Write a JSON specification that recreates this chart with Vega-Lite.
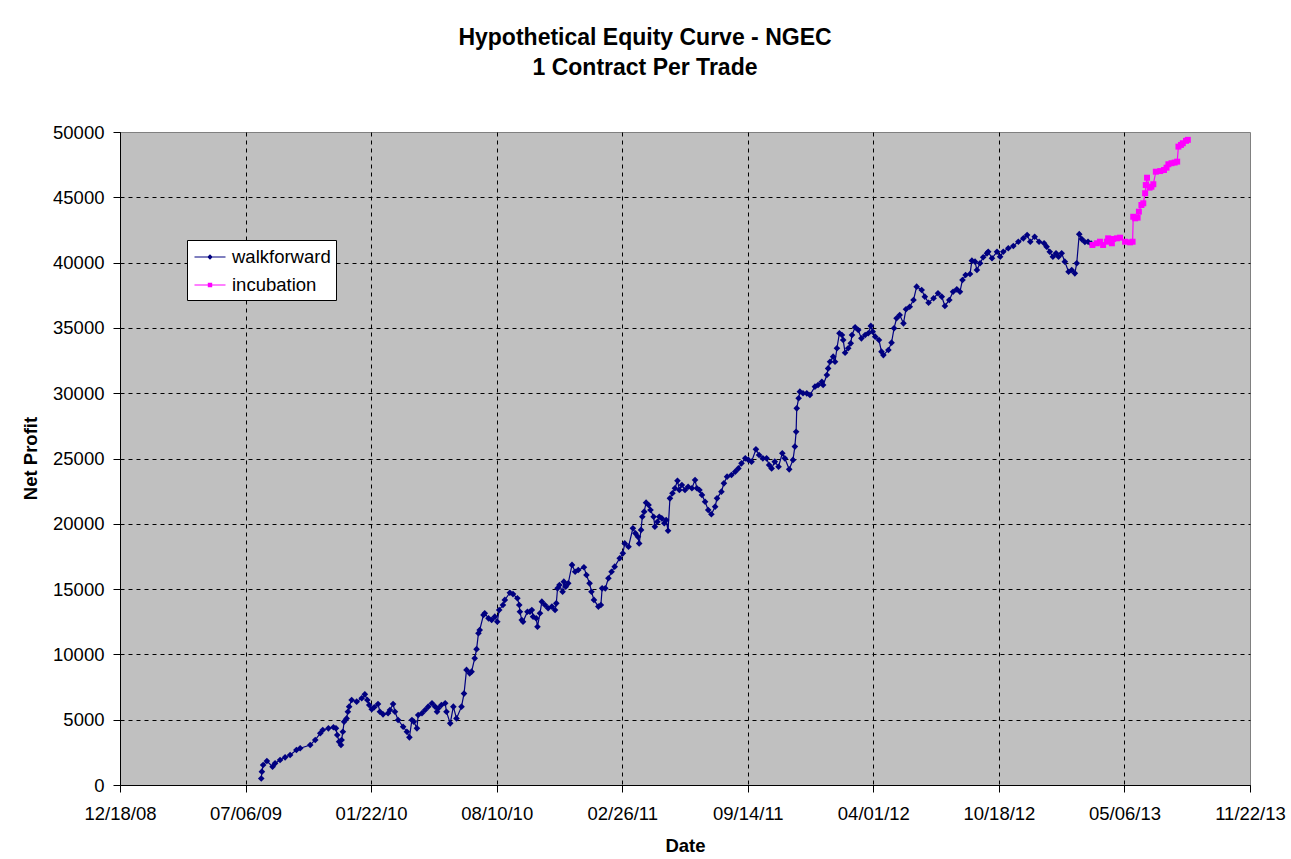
{
"$schema": "https://vega.github.io/schema/vega-lite/v6.json",
"width": 1130, "height": 653,
"autosize": "none",
"padding": {"left": 120, "top": 132, "right": 41, "bottom": 74},
"background": "white",
"title": {"text": ["Hypothetical Equity Curve - NGEC", "1 Contract Per Trade"], "fontSize": 23, "font": "Liberation Sans", "fontWeight": "bold", "color": "black", "anchor": "middle", "frame": "group", "dx": -40, "offset": 43, "lineHeight": 30},
"config": {
  "font": "Liberation Sans",
  "view": {"fill": "#C0C0C0", "stroke": "#808080", "strokeWidth": 1}
},
"data": {"values": [
{"date":"2009-07-31","profit":500,"series":"walkforward"},
{"date":"2009-08-01","profit":1020,"series":"walkforward"},
{"date":"2009-08-03","profit":1530,"series":"walkforward"},
{"date":"2009-08-09","profit":1840,"series":"walkforward"},
{"date":"2009-08-18","profit":1400,"series":"walkforward"},
{"date":"2009-08-22","profit":1660,"series":"walkforward"},
{"date":"2009-08-30","profit":1910,"series":"walkforward"},
{"date":"2009-09-07","profit":2120,"series":"walkforward"},
{"date":"2009-09-15","profit":2300,"series":"walkforward"},
{"date":"2009-09-25","profit":2680,"series":"walkforward"},
{"date":"2009-10-01","profit":2810,"series":"walkforward"},
{"date":"2009-10-17","profit":3060,"series":"walkforward"},
{"date":"2009-10-25","profit":3450,"series":"walkforward"},
{"date":"2009-11-02","profit":3960,"series":"walkforward"},
{"date":"2009-11-06","profit":4210,"series":"walkforward"},
{"date":"2009-11-15","profit":4340,"series":"walkforward"},
{"date":"2009-11-23","profit":4420,"series":"walkforward"},
{"date":"2009-11-27","profit":4340,"series":"walkforward"},
{"date":"2009-11-29","profit":3830,"series":"walkforward"},
{"date":"2009-12-02","profit":3320,"series":"walkforward"},
{"date":"2009-12-05","profit":3060,"series":"walkforward"},
{"date":"2009-12-06","profit":3450,"series":"walkforward"},
{"date":"2009-12-08","profit":4080,"series":"walkforward"},
{"date":"2009-12-10","profit":4850,"series":"walkforward"},
{"date":"2009-12-14","profit":5100,"series":"walkforward"},
{"date":"2009-12-16","profit":5610,"series":"walkforward"},
{"date":"2009-12-18","profit":6000,"series":"walkforward"},
{"date":"2009-12-22","profit":6510,"series":"walkforward"},
{"date":"2009-12-30","profit":6380,"series":"walkforward"},
{"date":"2010-01-07","profit":6640,"series":"walkforward"},
{"date":"2010-01-12","profit":6940,"series":"walkforward"},
{"date":"2010-01-16","profit":6510,"series":"walkforward"},
{"date":"2010-01-19","profit":6130,"series":"walkforward"},
{"date":"2010-01-23","profit":5800,"series":"walkforward"},
{"date":"2010-01-27","profit":5950,"series":"walkforward"},
{"date":"2010-02-02","profit":6200,"series":"walkforward"},
{"date":"2010-02-05","profit":5610,"series":"walkforward"},
{"date":"2010-02-10","profit":5410,"series":"walkforward"},
{"date":"2010-02-18","profit":5490,"series":"walkforward"},
{"date":"2010-02-21","profit":5740,"series":"walkforward"},
{"date":"2010-02-26","profit":6200,"series":"walkforward"},
{"date":"2010-03-01","profit":5610,"series":"walkforward"},
{"date":"2010-03-06","profit":4980,"series":"walkforward"},
{"date":"2010-03-14","profit":4460,"series":"walkforward"},
{"date":"2010-03-20","profit":4080,"series":"walkforward"},
{"date":"2010-03-24","profit":3650,"series":"walkforward"},
{"date":"2010-03-28","profit":4980,"series":"walkforward"},
{"date":"2010-03-31","profit":4850,"series":"walkforward"},
{"date":"2010-04-05","profit":4340,"series":"walkforward"},
{"date":"2010-04-07","profit":5360,"series":"walkforward"},
{"date":"2010-04-13","profit":5490,"series":"walkforward"},
{"date":"2010-04-18","profit":5740,"series":"walkforward"},
{"date":"2010-04-23","profit":6000,"series":"walkforward"},
{"date":"2010-04-29","profit":6260,"series":"walkforward"},
{"date":"2010-05-04","profit":6000,"series":"walkforward"},
{"date":"2010-05-07","profit":5610,"series":"walkforward"},
{"date":"2010-05-09","profit":5870,"series":"walkforward"},
{"date":"2010-05-14","profit":6130,"series":"walkforward"},
{"date":"2010-05-20","profit":6260,"series":"walkforward"},
{"date":"2010-05-22","profit":5610,"series":"walkforward"},
{"date":"2010-05-28","profit":4720,"series":"walkforward"},
{"date":"2010-06-02","profit":6000,"series":"walkforward"},
{"date":"2010-06-07","profit":5100,"series":"walkforward"},
{"date":"2010-06-15","profit":6000,"series":"walkforward"},
{"date":"2010-06-19","profit":7000,"series":"walkforward"},
{"date":"2010-06-23","profit":8810,"series":"walkforward"},
{"date":"2010-06-28","profit":8550,"series":"walkforward"},
{"date":"2010-07-01","profit":8680,"series":"walkforward"},
{"date":"2010-07-06","profit":9700,"series":"walkforward"},
{"date":"2010-07-09","profit":10400,"series":"walkforward"},
{"date":"2010-07-12","profit":11620,"series":"walkforward"},
{"date":"2010-07-14","profit":11870,"series":"walkforward"},
{"date":"2010-07-20","profit":13020,"series":"walkforward"},
{"date":"2010-07-22","profit":13150,"series":"walkforward"},
{"date":"2010-07-28","profit":12760,"series":"walkforward"},
{"date":"2010-08-02","profit":12630,"series":"walkforward"},
{"date":"2010-08-07","profit":12890,"series":"walkforward"},
{"date":"2010-08-11","profit":12500,"series":"walkforward"},
{"date":"2010-08-14","profit":13400,"series":"walkforward"},
{"date":"2010-08-20","profit":13780,"series":"walkforward"},
{"date":"2010-08-23","profit":14170,"series":"walkforward"},
{"date":"2010-08-31","profit":14720,"series":"walkforward"},
{"date":"2010-09-05","profit":14620,"series":"walkforward"},
{"date":"2010-09-12","profit":14300,"series":"walkforward"},
{"date":"2010-09-15","profit":13780,"series":"walkforward"},
{"date":"2010-09-16","profit":13270,"series":"walkforward"},
{"date":"2010-09-19","profit":12630,"series":"walkforward"},
{"date":"2010-09-21","profit":12500,"series":"walkforward"},
{"date":"2010-09-28","profit":13270,"series":"walkforward"},
{"date":"2010-10-02","profit":13270,"series":"walkforward"},
{"date":"2010-10-05","profit":13400,"series":"walkforward"},
{"date":"2010-10-07","profit":12890,"series":"walkforward"},
{"date":"2010-10-12","profit":12760,"series":"walkforward"},
{"date":"2010-10-14","profit":12120,"series":"walkforward"},
{"date":"2010-10-18","profit":13150,"series":"walkforward"},
{"date":"2010-10-21","profit":14040,"series":"walkforward"},
{"date":"2010-10-26","profit":13780,"series":"walkforward"},
{"date":"2010-10-31","profit":13530,"series":"walkforward"},
{"date":"2010-11-06","profit":13660,"series":"walkforward"},
{"date":"2010-11-11","profit":13400,"series":"walkforward"},
{"date":"2010-11-13","profit":13910,"series":"walkforward"},
{"date":"2010-11-15","profit":15060,"series":"walkforward"},
{"date":"2010-11-18","profit":15310,"series":"walkforward"},
{"date":"2010-11-23","profit":14800,"series":"walkforward"},
{"date":"2010-11-25","profit":15570,"series":"walkforward"},
{"date":"2010-11-28","profit":15180,"series":"walkforward"},
{"date":"2010-12-02","profit":15440,"series":"walkforward"},
{"date":"2010-12-08","profit":16850,"series":"walkforward"},
{"date":"2010-12-13","profit":16330,"series":"walkforward"},
{"date":"2010-12-18","profit":16460,"series":"walkforward"},
{"date":"2010-12-27","profit":16670,"series":"walkforward"},
{"date":"2010-12-31","profit":16080,"series":"walkforward"},
{"date":"2011-01-05","profit":15440,"series":"walkforward"},
{"date":"2011-01-08","profit":14800,"series":"walkforward"},
{"date":"2011-01-12","profit":14170,"series":"walkforward"},
{"date":"2011-01-19","profit":13660,"series":"walkforward"},
{"date":"2011-01-23","profit":13780,"series":"walkforward"},
{"date":"2011-01-25","profit":15060,"series":"walkforward"},
{"date":"2011-01-30","profit":15060,"series":"walkforward"},
{"date":"2011-02-04","profit":15830,"series":"walkforward"},
{"date":"2011-02-09","profit":16330,"series":"walkforward"},
{"date":"2011-02-14","profit":16720,"series":"walkforward"},
{"date":"2011-02-22","profit":17360,"series":"walkforward"},
{"date":"2011-02-27","profit":17740,"series":"walkforward"},
{"date":"2011-03-02","profit":18500,"series":"walkforward"},
{"date":"2011-03-08","profit":18250,"series":"walkforward"},
{"date":"2011-03-15","profit":19660,"series":"walkforward"},
{"date":"2011-03-19","profit":19270,"series":"walkforward"},
{"date":"2011-03-23","profit":19010,"series":"walkforward"},
{"date":"2011-03-25","profit":18500,"series":"walkforward"},
{"date":"2011-03-28","profit":19530,"series":"walkforward"},
{"date":"2011-03-30","profit":20540,"series":"walkforward"},
{"date":"2011-04-02","profit":20930,"series":"walkforward"},
{"date":"2011-04-05","profit":21620,"series":"walkforward"},
{"date":"2011-04-09","profit":21440,"series":"walkforward"},
{"date":"2011-04-12","profit":21060,"series":"walkforward"},
{"date":"2011-04-17","profit":20540,"series":"walkforward"},
{"date":"2011-04-19","profit":19780,"series":"walkforward"},
{"date":"2011-04-23","profit":20160,"series":"walkforward"},
{"date":"2011-04-26","profit":20540,"series":"walkforward"},
{"date":"2011-04-30","profit":20420,"series":"walkforward"},
{"date":"2011-05-04","profit":20040,"series":"walkforward"},
{"date":"2011-05-07","profit":20290,"series":"walkforward"},
{"date":"2011-05-10","profit":19470,"series":"walkforward"},
{"date":"2011-05-13","profit":21950,"series":"walkforward"},
{"date":"2011-05-17","profit":22340,"series":"walkforward"},
{"date":"2011-05-21","profit":22720,"series":"walkforward"},
{"date":"2011-05-25","profit":23300,"series":"walkforward"},
{"date":"2011-05-28","profit":22590,"series":"walkforward"},
{"date":"2011-06-01","profit":22970,"series":"walkforward"},
{"date":"2011-06-06","profit":22590,"series":"walkforward"},
{"date":"2011-06-11","profit":22840,"series":"walkforward"},
{"date":"2011-06-17","profit":22720,"series":"walkforward"},
{"date":"2011-06-22","profit":23350,"series":"walkforward"},
{"date":"2011-06-25","profit":22720,"series":"walkforward"},
{"date":"2011-06-29","profit":22590,"series":"walkforward"},
{"date":"2011-07-03","profit":22210,"series":"walkforward"},
{"date":"2011-07-08","profit":21690,"series":"walkforward"},
{"date":"2011-07-13","profit":21060,"series":"walkforward"},
{"date":"2011-07-18","profit":20730,"series":"walkforward"},
{"date":"2011-07-24","profit":21310,"series":"walkforward"},
{"date":"2011-07-27","profit":21950,"series":"walkforward"},
{"date":"2011-08-03","profit":22460,"series":"walkforward"},
{"date":"2011-08-07","profit":23100,"series":"walkforward"},
{"date":"2011-08-12","profit":23610,"series":"walkforward"},
{"date":"2011-08-19","profit":23740,"series":"walkforward"},
{"date":"2011-08-25","profit":23990,"series":"walkforward"},
{"date":"2011-08-30","profit":24240,"series":"walkforward"},
{"date":"2011-09-04","profit":24630,"series":"walkforward"},
{"date":"2011-09-10","profit":25010,"series":"walkforward"},
{"date":"2011-09-15","profit":24890,"series":"walkforward"},
{"date":"2011-09-20","profit":24760,"series":"walkforward"},
{"date":"2011-09-27","profit":25700,"series":"walkforward"},
{"date":"2011-10-02","profit":25270,"series":"walkforward"},
{"date":"2011-10-08","profit":25010,"series":"walkforward"},
{"date":"2011-10-14","profit":25010,"series":"walkforward"},
{"date":"2011-10-18","profit":24500,"series":"walkforward"},
{"date":"2011-10-22","profit":24240,"series":"walkforward"},
{"date":"2011-10-27","profit":24760,"series":"walkforward"},
{"date":"2011-11-02","profit":24370,"series":"walkforward"},
{"date":"2011-11-08","profit":25400,"series":"walkforward"},
{"date":"2011-11-12","profit":25010,"series":"walkforward"},
{"date":"2011-11-19","profit":24170,"series":"walkforward"},
{"date":"2011-11-25","profit":24890,"series":"walkforward"},
{"date":"2011-11-28","profit":25910,"series":"walkforward"},
{"date":"2011-11-30","profit":27050,"series":"walkforward"},
{"date":"2011-12-01","profit":28840,"series":"walkforward"},
{"date":"2011-12-04","profit":29610,"series":"walkforward"},
{"date":"2011-12-06","profit":30120,"series":"walkforward"},
{"date":"2011-12-11","profit":30000,"series":"walkforward"},
{"date":"2011-12-17","profit":29990,"series":"walkforward"},
{"date":"2011-12-22","profit":29860,"series":"walkforward"},
{"date":"2011-12-30","profit":30500,"series":"walkforward"},
{"date":"2012-01-04","profit":30630,"series":"walkforward"},
{"date":"2012-01-10","profit":30880,"series":"walkforward"},
{"date":"2012-01-12","profit":30630,"series":"walkforward"},
{"date":"2012-01-18","profit":31390,"series":"walkforward"},
{"date":"2012-01-20","profit":31900,"series":"walkforward"},
{"date":"2012-01-23","profit":32410,"series":"walkforward"},
{"date":"2012-01-28","profit":32800,"series":"walkforward"},
{"date":"2012-01-31","profit":32410,"series":"walkforward"},
{"date":"2012-02-03","profit":33440,"series":"walkforward"},
{"date":"2012-02-07","profit":34590,"series":"walkforward"},
{"date":"2012-02-11","profit":34460,"series":"walkforward"},
{"date":"2012-02-13","profit":34070,"series":"walkforward"},
{"date":"2012-02-16","profit":33100,"series":"walkforward"},
{"date":"2012-02-21","profit":33440,"series":"walkforward"},
{"date":"2012-02-25","profit":33820,"series":"walkforward"},
{"date":"2012-02-27","profit":34460,"series":"walkforward"},
{"date":"2012-03-03","profit":35050,"series":"walkforward"},
{"date":"2012-03-08","profit":34840,"series":"walkforward"},
{"date":"2012-03-13","profit":34200,"series":"walkforward"},
{"date":"2012-03-19","profit":34460,"series":"walkforward"},
{"date":"2012-03-24","profit":34590,"series":"walkforward"},
{"date":"2012-03-28","profit":35150,"series":"walkforward"},
{"date":"2012-03-31","profit":34710,"series":"walkforward"},
{"date":"2012-04-04","profit":34330,"series":"walkforward"},
{"date":"2012-04-10","profit":34070,"series":"walkforward"},
{"date":"2012-04-14","profit":33180,"series":"walkforward"},
{"date":"2012-04-17","profit":32920,"series":"walkforward"},
{"date":"2012-04-25","profit":33310,"series":"walkforward"},
{"date":"2012-04-30","profit":33870,"series":"walkforward"},
{"date":"2012-05-04","profit":34970,"series":"walkforward"},
{"date":"2012-05-08","profit":35740,"series":"walkforward"},
{"date":"2012-05-13","profit":35990,"series":"walkforward"},
{"date":"2012-05-19","profit":35350,"series":"walkforward"},
{"date":"2012-05-23","profit":36430,"series":"walkforward"},
{"date":"2012-05-29","profit":36620,"series":"walkforward"},
{"date":"2012-06-04","profit":37140,"series":"walkforward"},
{"date":"2012-06-09","profit":38160,"series":"walkforward"},
{"date":"2012-06-17","profit":37900,"series":"walkforward"},
{"date":"2012-06-22","profit":37390,"series":"walkforward"},
{"date":"2012-06-28","profit":36930,"series":"walkforward"},
{"date":"2012-07-06","profit":37270,"series":"walkforward"},
{"date":"2012-07-13","profit":37650,"series":"walkforward"},
{"date":"2012-07-19","profit":37390,"series":"walkforward"},
{"date":"2012-07-24","profit":36680,"series":"walkforward"},
{"date":"2012-07-31","profit":37140,"series":"walkforward"},
{"date":"2012-08-06","profit":37770,"series":"walkforward"},
{"date":"2012-08-12","profit":37950,"series":"walkforward"},
{"date":"2012-08-17","profit":37770,"series":"walkforward"},
{"date":"2012-08-21","profit":38670,"series":"walkforward"},
{"date":"2012-08-26","profit":39050,"series":"walkforward"},
{"date":"2012-09-02","profit":39130,"series":"walkforward"},
{"date":"2012-09-05","profit":40150,"series":"walkforward"},
{"date":"2012-09-10","profit":40070,"series":"walkforward"},
{"date":"2012-09-13","profit":39430,"series":"walkforward"},
{"date":"2012-09-18","profit":39950,"series":"walkforward"},
{"date":"2012-09-23","profit":40410,"series":"walkforward"},
{"date":"2012-09-29","profit":40710,"series":"walkforward"},
{"date":"2012-10-01","profit":40830,"series":"walkforward"},
{"date":"2012-10-07","profit":40330,"series":"walkforward"},
{"date":"2012-10-15","profit":40830,"series":"walkforward"},
{"date":"2012-10-20","profit":40450,"series":"walkforward"},
{"date":"2012-10-25","profit":40830,"series":"walkforward"},
{"date":"2012-11-02","profit":41100,"series":"walkforward"},
{"date":"2012-11-10","profit":41270,"series":"walkforward"},
{"date":"2012-11-18","profit":41600,"series":"walkforward"},
{"date":"2012-11-26","profit":41860,"series":"walkforward"},
{"date":"2012-12-02","profit":42110,"series":"walkforward"},
{"date":"2012-12-07","profit":41600,"series":"walkforward"},
{"date":"2012-12-14","profit":41980,"series":"walkforward"},
{"date":"2012-12-21","profit":41600,"series":"walkforward"},
{"date":"2012-12-29","profit":41480,"series":"walkforward"},
{"date":"2013-01-02","profit":41220,"series":"walkforward"},
{"date":"2013-01-07","profit":40830,"series":"walkforward"},
{"date":"2013-01-12","profit":40450,"series":"walkforward"},
{"date":"2013-01-17","profit":40710,"series":"walkforward"},
{"date":"2013-01-21","profit":40450,"series":"walkforward"},
{"date":"2013-01-26","profit":40710,"series":"walkforward"},
{"date":"2013-01-31","profit":40070,"series":"walkforward"},
{"date":"2013-02-06","profit":39300,"series":"walkforward"},
{"date":"2013-02-11","profit":39430,"series":"walkforward"},
{"date":"2013-02-16","profit":39180,"series":"walkforward"},
{"date":"2013-02-19","profit":39950,"series":"walkforward"},
{"date":"2013-02-23","profit":42180,"series":"walkforward"},
{"date":"2013-02-27","profit":41800,"series":"walkforward"},
{"date":"2013-03-04","profit":41580,"series":"walkforward"},
{"date":"2013-03-09","profit":41600,"series":"walkforward"},
{"date":"2013-03-14","profit":41450,"series":"walkforward"},
{"date":"2013-03-16","profit":41350,"series":"incubation"},
{"date":"2013-03-23","profit":41480,"series":"incubation"},
{"date":"2013-03-28","profit":41600,"series":"incubation"},
{"date":"2013-04-02","profit":41350,"series":"incubation"},
{"date":"2013-04-08","profit":41600,"series":"incubation"},
{"date":"2013-04-10","profit":41860,"series":"incubation"},
{"date":"2013-04-16","profit":41480,"series":"incubation"},
{"date":"2013-04-18","profit":41810,"series":"incubation"},
{"date":"2013-04-24","profit":41860,"series":"incubation"},
{"date":"2013-04-29","profit":41910,"series":"incubation"},
{"date":"2013-05-07","profit":41600,"series":"incubation"},
{"date":"2013-05-15","profit":41550,"series":"incubation"},
{"date":"2013-05-19","profit":41600,"series":"incubation"},
{"date":"2013-05-20","profit":43510,"series":"incubation"},
{"date":"2013-05-23","profit":43390,"series":"incubation"},
{"date":"2013-05-27","profit":43440,"series":"incubation"},
{"date":"2013-05-29","profit":43900,"series":"incubation"},
{"date":"2013-06-02","profit":44410,"series":"incubation"},
{"date":"2013-06-05","profit":44540,"series":"incubation"},
{"date":"2013-06-08","profit":45310,"series":"incubation"},
{"date":"2013-06-09","profit":45940,"series":"incubation"},
{"date":"2013-06-11","profit":46500,"series":"incubation"},
{"date":"2013-06-15","profit":45740,"series":"incubation"},
{"date":"2013-06-18","profit":45810,"series":"incubation"},
{"date":"2013-06-21","profit":46000,"series":"incubation"},
{"date":"2013-06-25","profit":46960,"series":"incubation"},
{"date":"2013-07-02","profit":47010,"series":"incubation"},
{"date":"2013-07-08","profit":47090,"series":"incubation"},
{"date":"2013-07-12","profit":47270,"series":"incubation"},
{"date":"2013-07-15","profit":47530,"series":"incubation"},
{"date":"2013-07-20","profit":47610,"series":"incubation"},
{"date":"2013-07-25","profit":47660,"series":"incubation"},
{"date":"2013-07-29","profit":47730,"series":"incubation"},
{"date":"2013-07-31","profit":48880,"series":"incubation"},
{"date":"2013-08-04","profit":49010,"series":"incubation"},
{"date":"2013-08-07","profit":49140,"series":"incubation"},
{"date":"2013-08-12","profit":49320,"series":"incubation"},
{"date":"2013-08-15","profit":49400,"series":"incubation"}
]},
"encoding": {
  "x": {"field": "date", "type": "temporal",
    "scale": {"type": "utc", "domain": [{"year": 2008, "month": 12, "date": 18, "utc": true}, {"year": 2013, "month": 11, "date": 22, "utc": true}]},
    "axis": {
      "values": [
        {"year": 2008, "month": 12, "date": 18, "utc": true},
        {"year": 2009, "month": 7, "date": 6, "utc": true},
        {"year": 2010, "month": 1, "date": 22, "utc": true},
        {"year": 2010, "month": 8, "date": 10, "utc": true},
        {"year": 2011, "month": 2, "date": 26, "utc": true},
        {"year": 2011, "month": 9, "date": 14, "utc": true},
        {"year": 2012, "month": 4, "date": 1, "utc": true},
        {"year": 2012, "month": 10, "date": 18, "utc": true},
        {"year": 2013, "month": 5, "date": 6, "utc": true},
        {"year": 2013, "month": 11, "date": 22, "utc": true}
      ],
      "format": "%m/%d/%y",
      "labelFontSize": 18.5, "labelColor": "black", "labelFont": "Liberation Sans",
      "labelPadding": 12, "labelFlush": false, "labelOverlap": false,
      "tickColor": "black", "tickSize": 7, "domainColor": "black", "domainWidth": 1,
      "grid": true, "gridColor": "black", "gridDash": [4, 4], "gridWidth": 1,
      "gridOpacity": {"condition": {"test": "datum.value > 1385000000000", "value": 0}, "value": 1},
      "title": "Date", "titleFontSize": 18.5, "titleFontWeight": "bold", "titleColor": "black", "titleFont": "Liberation Sans",
      "titleX": 565, "titleY": 60, "titleBaseline": "middle", "titleAlign": "center"
    }
  },
  "y": {"field": "profit", "type": "quantitative",
    "scale": {"domain": [0, 50000], "nice": false, "zero": true},
    "axis": {
      "values": [0, 5000, 10000, 15000, 20000, 25000, 30000, 35000, 40000, 45000, 50000],
      "format": "d",
      "labelFontSize": 18.5, "labelColor": "black", "labelFont": "Liberation Sans", "labelPadding": 9,
      "tickColor": "black", "tickSize": 7, "domainColor": "black", "domainWidth": 1,
      "grid": true, "gridColor": "black", "gridDash": [4, 4], "gridWidth": 1,
      "gridOpacity": {"condition": {"test": "datum.value >= 50000", "value": 0}, "value": 1},
      "title": "Net Profit", "titleFontSize": 18.5, "titleFontWeight": "bold", "titleColor": "black", "titleFont": "Liberation Sans",
      "titleX": -90, "titleY": 326, "titleAngle": 270, "titleBaseline": "middle", "titleAlign": "center"
    }
  }
},
"layer": [
  {"mark": {"type": "line", "strokeWidth": 1.2},
   "encoding": {
     "detail": {"field": "series", "type": "nominal"},
     "stroke": {"condition": {"test": "datum.series === 'incubation'", "value": "#FF00FF"}, "value": "#000080"}
   }},
  {"mark": {"type": "point", "filled": true, "size": 1100, "opacity": 1, "strokeWidth": 0},
   "encoding": {
     "fill": {"condition": {"test": "datum.series === 'incubation'", "value": "#FF00FF"}, "value": "#000080"},
     "shape": {"condition": {"test": "datum.series === 'incubation'", "value": "M-0.18,-0.18H0.18V0.18H-0.18Z"}, "value": "M0,-0.2L0.2,0L0,0.2L-0.2,0Z"}
   }},
  {"mark": {"type": "point", "filled": true, "size": 0, "strokeWidth": 0},
   "encoding": {
     "color": {"field": "series", "type": "nominal", "scale": {"domain": ["walkforward", "incubation"], "range": ["#000080", "#FF00FF"]},
       "legend": {"orient": "none", "legendX": 67, "legendY": 108, "title": null, "padding": 5,
         "strokeColor": "black", "fillColor": "white", "cornerRadius": 0,
         "symbolSize": 484, "symbolOffset": 6, "rowPadding": 6, "labelOffset": 10, "symbolOpacity": 1,
         "labelFontSize": 18.5, "labelFont": "Liberation Sans", "labelColor": "black"}},
     "shape": {"field": "series", "type": "nominal", "scale": {"domain": ["walkforward", "incubation"], "range": ["M-1.41,-0.05H1.41V0.05H-1.41ZM0,-0.25L0.25,0L0,0.25L-0.25,0Z", "M-1.41,-0.05H1.41V0.05H-1.41ZM-0.2,-0.2H0.2V0.2H-0.2Z"]},
       "legend": {"orient": "none", "legendX": 67, "legendY": 108, "title": null, "padding": 5,
         "strokeColor": "black", "fillColor": "white", "cornerRadius": 0,
         "symbolSize": 484, "symbolOffset": 6, "rowPadding": 6, "labelOffset": 10, "symbolOpacity": 1,
         "labelFontSize": 18.5, "labelFont": "Liberation Sans", "labelColor": "black"}}
   }}
]
}
